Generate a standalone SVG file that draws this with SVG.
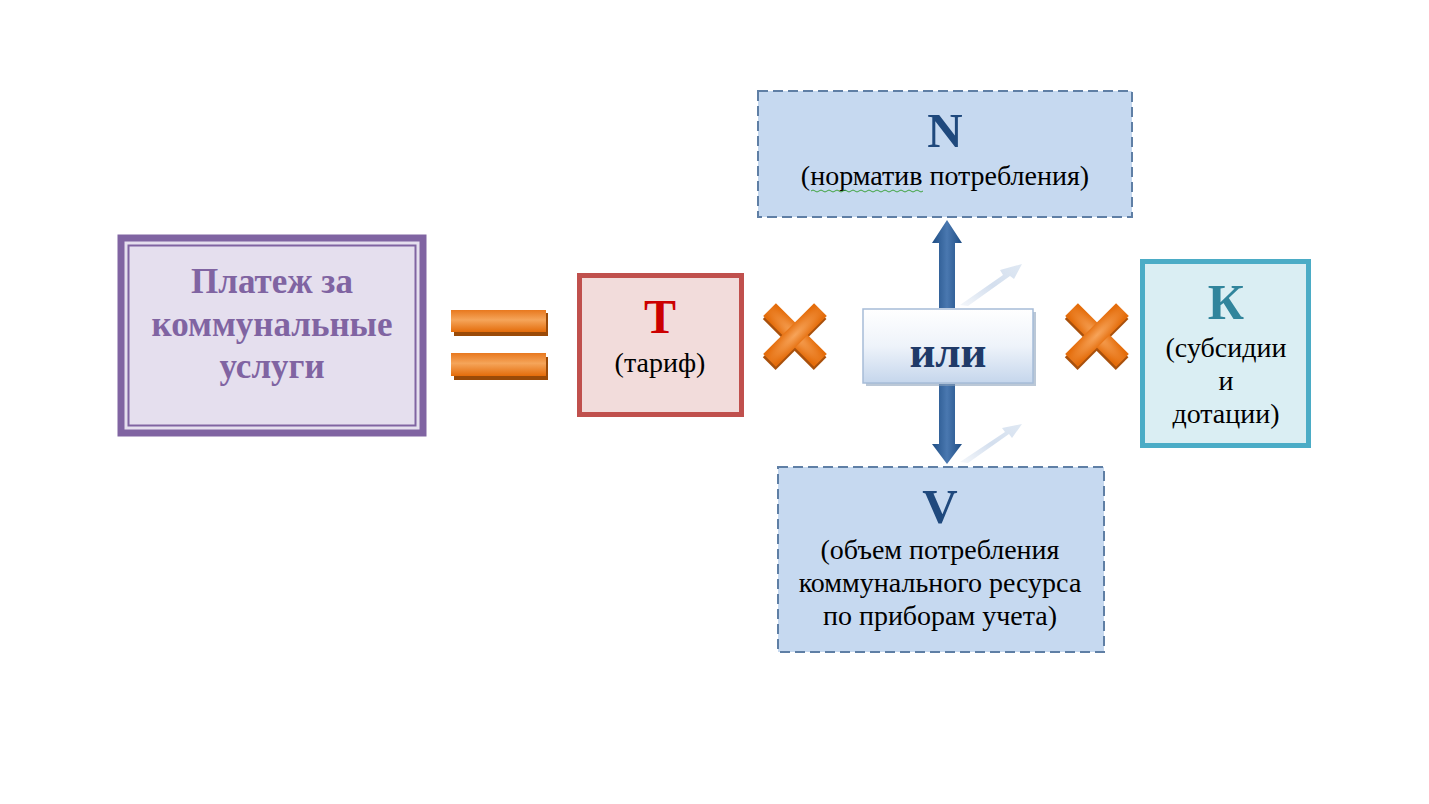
<svg xmlns="http://www.w3.org/2000/svg" width="1429" height="804" viewBox="0 0 1429 804">
<defs>
<linearGradient id="orange" x1="0" y1="0" x2="0" y2="1">
<stop offset="0" stop-color="#E8781E"/>
<stop offset="0.45" stop-color="#F5A55A"/>
<stop offset="1" stop-color="#E46C0A"/>
</linearGradient>
<radialGradient id="orangeR" cx="0.5" cy="0.5" r="0.6">
<stop offset="0" stop-color="#F7A45A"/>
<stop offset="1" stop-color="#E46C0A"/>
</radialGradient>
<linearGradient id="iliG" x1="0" y1="0" x2="0" y2="1">
<stop offset="0" stop-color="#FFFFFF"/>
<stop offset="0.5" stop-color="#EEF3FA"/>
<stop offset="1" stop-color="#C5D6EC"/>
</linearGradient>
<linearGradient id="arrowG" x1="0" y1="0" x2="1" y2="0">
<stop offset="0" stop-color="#1F4E85"/>
<stop offset="0.5" stop-color="#4A78B0"/>
<stop offset="1" stop-color="#1F4E85"/>
</linearGradient>
<linearGradient id="reflG" x1="0" y1="1" x2="1" y2="0">
<stop offset="0" stop-color="#C9D7EA" stop-opacity="0.2"/>
<stop offset="0.5" stop-color="#C9D7EA" stop-opacity="0.8"/>
<stop offset="1" stop-color="#DCE6F2" stop-opacity="0.9"/>
</linearGradient>
<g id="cross">
<g transform="rotate(45)">
<rect x="-36" y="-9" width="72" height="18" fill="#A8500C" transform="translate(2,2.5)"/>
<rect x="-9" y="-36" width="18" height="72" fill="#A8500C" transform="translate(2,2.5)"/>
<rect x="-36" y="-9" width="72" height="18" fill="url(#orangeR)"/>
<rect x="-9" y="-36" width="18" height="72" fill="url(#orangeR)"/>
</g>
</g>
</defs>
<style>
.serif{font-family:"Liberation Serif","Times New Roman",serif;}
.b{font-weight:bold;}
.t24{font-size:28px;fill:#000;}
.dash{fill:#C6D9F0;stroke:#5F7FA5;stroke-width:2;stroke-dasharray:10 5;}
</style>
<rect width="1429" height="804" fill="#FFFFFF"/>

<g id="payment">
<rect x="121" y="238" width="302" height="195" fill="#E5DFEE" stroke="#8064A2" stroke-width="7"/>
<rect x="128.5" y="245.5" width="287" height="180" fill="none" stroke="#8064A2" stroke-width="2"/>
<text class="serif b" x="272" y="293" font-size="35" fill="#8064A2" text-anchor="middle">Платеж за</text>
<text class="serif b" x="272" y="336" font-size="35" fill="#8064A2" text-anchor="middle">коммунальные</text>
<text class="serif b" x="272" y="378" font-size="35" fill="#8064A2" text-anchor="middle">услуги</text>
</g>

<g id="equals">
<rect x="454" y="313" width="94" height="23" fill="#9A4A08"/>
<rect x="451" y="310" width="95" height="22" fill="url(#orange)"/>
<rect x="454" y="357" width="94" height="23" fill="#9A4A08"/>
<rect x="451" y="353" width="95" height="23" fill="url(#orange)"/>
</g>

<g id="tariff">
<rect x="579.5" y="275.5" width="162" height="139" fill="#F2DCDB" stroke="#C0504D" stroke-width="5"/>
<text class="serif b" x="660" y="333" font-size="48" fill="#CC0000" text-anchor="middle">Т</text>
<text class="serif t24" x="660" y="372" text-anchor="middle">(тариф)</text>
</g>

<g id="times1">
<use href="#cross" transform="translate(795,335)"/>
</g>

<g id="times2">
<use href="#cross" transform="translate(1097,335)"/>
</g>

<g id="norm">
<rect x="758" y="91" width="374" height="126" class="dash"/>
<text class="serif b" x="945" y="147" font-size="49" fill="#1F497D" text-anchor="middle">N</text>
<text class="serif t24" x="945" y="185" text-anchor="middle">(норматив потребления)</text>
<path d="M811 191 q2 -2 4 0 t4 0 t4 0 t4 0 t4 0 t4 0 t4 0 t4 0 t4 0 t4 0 t4 0 t4 0 t4 0 t4 0 t4 0 t4 0 t4 0 t4 0 t4 0 t4 0 t4 0 t4 0 t4 0 t4 0 t4 0 t4 0 t4 0 t4 0" fill="none" stroke="#3FA33F" stroke-width="1"/>
</g>

<g id="volume">
<rect x="778" y="467" width="326" height="185" class="dash"/>
<text class="serif b" x="940" y="523" font-size="49" fill="#1F497D" text-anchor="middle">V</text>
<text class="serif t24" x="940" y="559" text-anchor="middle">(объем потребления</text>
<text class="serif t24" x="940" y="592" text-anchor="middle">коммунального ресурса</text>
<text class="serif t24" x="940" y="625" text-anchor="middle">по приборам учета)</text>
</g>

<g id="subsidy">
<rect x="1142.5" y="261.5" width="166" height="184" fill="#DAEEF3" stroke="#4BACC6" stroke-width="5"/>
<text class="serif b" x="1226" y="319" font-size="50" fill="#31859C" text-anchor="middle">К</text>
<text class="serif t24" x="1226" y="357" text-anchor="middle">(субсидии</text>
<text class="serif t24" x="1226" y="390" text-anchor="middle">и</text>
<text class="serif t24" x="1226" y="423" text-anchor="middle">дотации)</text>
</g>

<g id="connectors">
<polygon points="960,305 1003,275 1000,270 1022,264 1014,279 1010,276 968,306" fill="url(#reflG)"/>
<polygon points="960,462 1005,432 1002,428 1022,424 1012,438 1009,434 968,463" fill="url(#reflG)"/>
<path d="M939 308 L939 243 L932 243 L947 220 L962 243 L955 243 L955 308 Z" fill="url(#arrowG)"/>
<path d="M939 384 L939 444 L932 444 L947 464 L962 444 L955 444 L955 384 Z" fill="url(#arrowG)"/>
</g>

<g id="or">
<rect x="866" y="312" width="170" height="74" fill="#8EA3BD" opacity="0.6"/>
<rect x="863" y="309" width="170" height="74" fill="url(#iliG)" stroke="#A6BCD8" stroke-width="1.5"/>
<text class="serif b" x="948" y="367" font-size="45" fill="#1F3A68" text-anchor="middle">или</text>
</g>
</svg>
